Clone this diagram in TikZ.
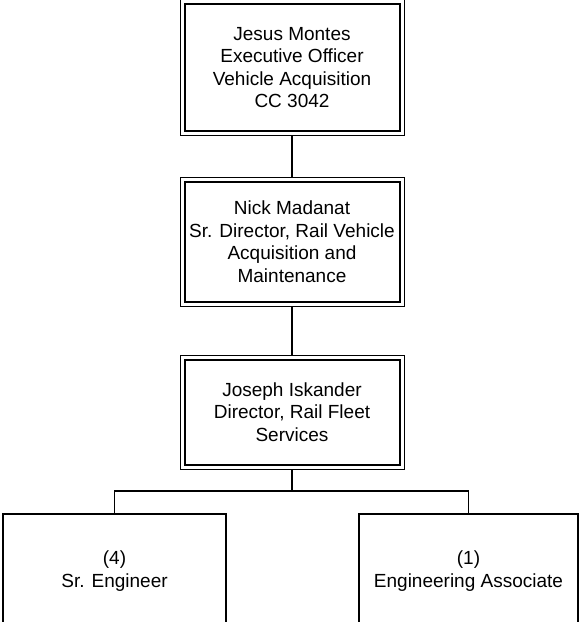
\documentclass[tikz,border=0pt]{standalone}
\usepackage{fontspec}
\setmainfont{Liberation Sans}
\begin{document}
\begin{tikzpicture}[x=1pt,y=-1pt,
  lbl/.style={align=center,font=\fontsize{19}{22.5}\selectfont},
  dbox/.style={draw,line width=2pt,inner sep=0pt,minimum width=215pt,lbl},
  sbox/.style={draw,line width=1.5pt,inner sep=0pt,lbl},
  conn/.style={line width=1.5pt},
  frame/.style={line width=1pt}]
\useasboundingbox (0,0) rectangle (580,622);
\fill[white] (0,0) rectangle (580,622);
\clip (0,0) rectangle (580,622);
% double boxes (inner thick border as node, outer thin frame)
\node[dbox,minimum height=127pt] (a) at (292,67.5)
  {Jesus Montes\\Executive Officer\\Vehicle Acquisition\\CC 3042};
\node[dbox,minimum height=120pt] (b) at (292,241.5)
  {Nick Madanat\\Sr. Director, Rail Vehicle\\Acquisition and\\Maintenance};
\node[dbox,minimum height=105pt] (c) at (292,412)
  {Joseph Iskander\\Director, Rail Fleet\\Services};
\foreach \n in {a,b,c}{
  \draw[frame] ([shift={(-3.5pt,3.5pt)}]\n.north west) rectangle ([shift={(3.5pt,-3.5pt)}]\n.south east);
}
% bottom boxes (their lower edge lies just below the picture)
\node[sbox,minimum width=223pt,minimum height=114pt] (d) at (114.5,571) {(4)\\Sr. Engineer};
\node[sbox,minimum width=219pt,minimum height=114pt] (e) at (468.5,571) {(1)\\Engineering Associate};
% connectors
\coordinate (j) at (292,491);
\draw[conn,shorten <=3.5pt,shorten >=3.5pt] (a.south) -- (b.north);
\draw[conn,shorten <=3.5pt,shorten >=3.5pt] (b.south) -- (c.north);
\draw[conn,shorten <=3.5pt] (c.south) -- (j);
\draw[conn] (d.north) |- (j) -| (e.north);
\end{tikzpicture}
\end{document}
